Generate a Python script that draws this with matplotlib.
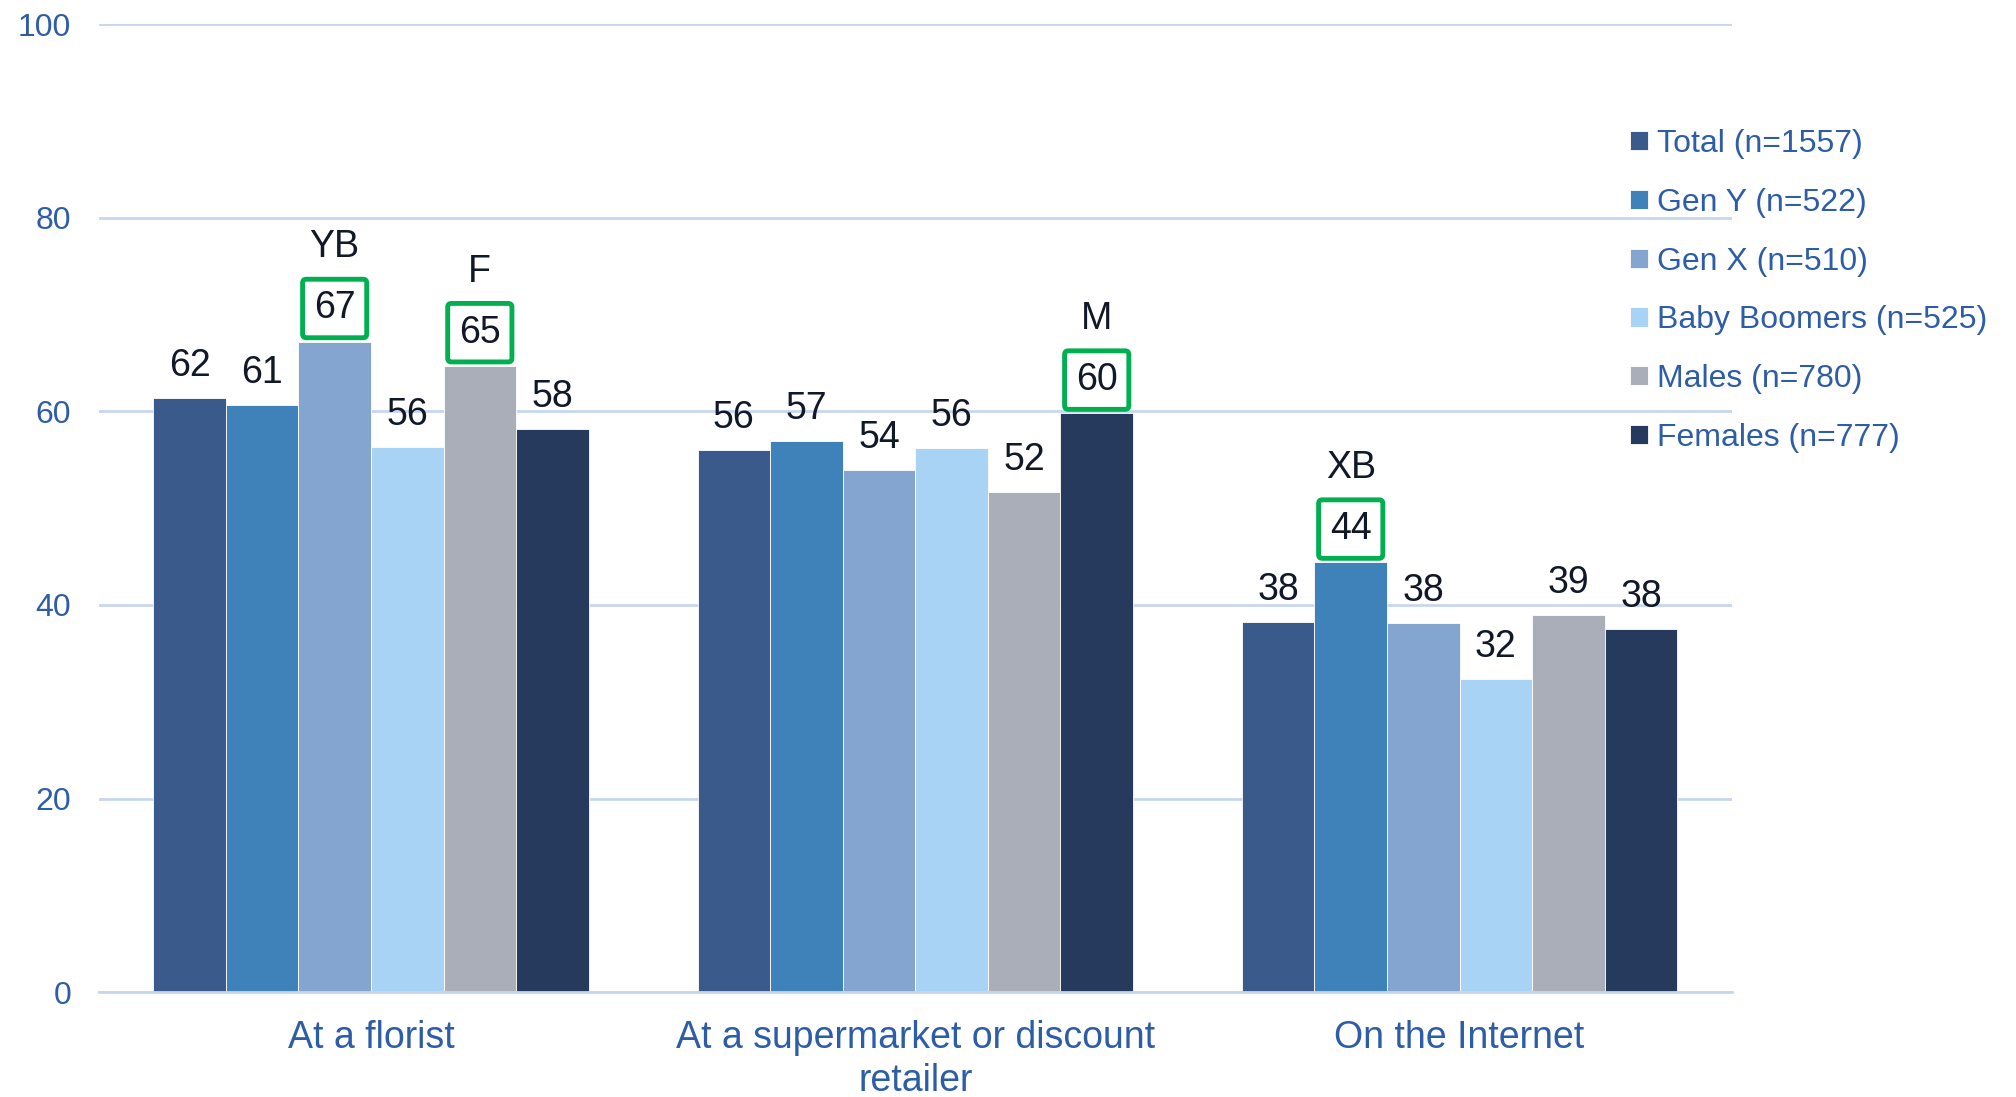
import matplotlib.pyplot as plt
import numpy as np

plt.rcParams['font.family'] = ['Liberation Sans', 'DejaVu Sans']

categories = ["At a florist", "At a supermarket or discount\nretailer", "On the Internet"]
series = ["Total (n=1557)", "Gen Y (n=522)", "Gen X (n=510)",
          "Baby Boomers (n=525)", "Males (n=780)", "Females (n=777)"]
colors = ["#3B5A8C", "#3E82B9", "#84A5CF", "#A9D3F5", "#AAAEB8", "#263A5E"]

# bar heights and the printed labels
values = [
    [61.4, 56.0, 38.2],   # Total
    [60.7, 57.0, 44.4],   # Gen Y
    [67.2, 54.0, 38.1],   # Gen X
    [56.3, 56.2, 32.4],   # Baby Boomers
    [64.7, 51.7, 39.0],   # Males
    [58.2, 59.8, 37.5],   # Females
]
labels = [
    [62, 56, 38],
    [61, 57, 44],
    [67, 54, 38],
    [56, 56, 32],
    [65, 52, 39],
    [58, 60, 38],
]
# significance markers: (series index, category index, letters)
highlights = [(2, 0, "YB"), (4, 0, "F"), (5, 1, "M"), (1, 2, "XB")]

blue = "#2E5DA8"
grid_col = "#C9D6EE"
green = "#00B050"

fig = plt.figure(figsize=(20.16, 10.97), dpi=100)
ax = fig.add_axes([0.049, 0.0957, 0.81, 0.882])

x = np.arange(len(categories))
w = 0.8 / len(series)
hl = {(s, c): t for s, c, t in highlights}

for i, name in enumerate(series):
    pos = x - 0.4 + w * (i + 0.5)
    ax.bar(pos, values[i], width=w, color=colors[i], edgecolor="white",
           linewidth=0.6, label=name, zorder=2)
    for j in range(len(categories)):
        if (i, j) in hl:
            ax.annotate(str(labels[i][j]), (pos[j], values[i][j]), xytext=(0, 24),
                        textcoords="offset points", ha="center", va="center",
                        fontsize=27, color="#111827", zorder=4,
                        bbox=dict(boxstyle="round,pad=0.3,rounding_size=0.1",
                                  fc="white", ec=green, lw=3.5))
            ax.annotate(hl[(i, j)], (pos[j], values[i][j]), xytext=(0, 68),
                        textcoords="offset points", ha="center", va="center",
                        fontsize=27, color="#111827", zorder=4)
        else:
            ax.annotate(str(labels[i][j]), (pos[j], values[i][j]), xytext=(0, 23),
                        textcoords="offset points", ha="center", va="center",
                        fontsize=27, color="#111827", zorder=4)

ax.set_xlim(-0.5, 2.5)
ax.set_ylim(0, 100)
ax.set_yticks([0, 20, 40, 60, 80, 100])
ax.set_xticks(x)
ax.set_xticklabels(categories, fontsize=27, color=blue, linespacing=1.25)
ax.tick_params(axis="y", labelsize=23, labelcolor=blue, length=0, pad=20)
ax.tick_params(axis="x", length=0, pad=20)
ax.grid(axis="y", color=grid_col, linewidth=2, zorder=0)
for s in ["top", "right", "left"]:
    ax.spines[s].set_visible(False)
ax.spines["bottom"].set_color(grid_col)
ax.spines["bottom"].set_linewidth(2)

leg = ax.legend(loc="upper left", bbox_to_anchor=(0.93, 0.905), frameon=False,
                fontsize=23, handlelength=0.55, handleheight=0.55, handletextpad=0.3,
                labelspacing=0.9, borderaxespad=0)
for t in leg.get_texts():
    t.set_color(blue)

fig.savefig("out.png", dpi=100)
